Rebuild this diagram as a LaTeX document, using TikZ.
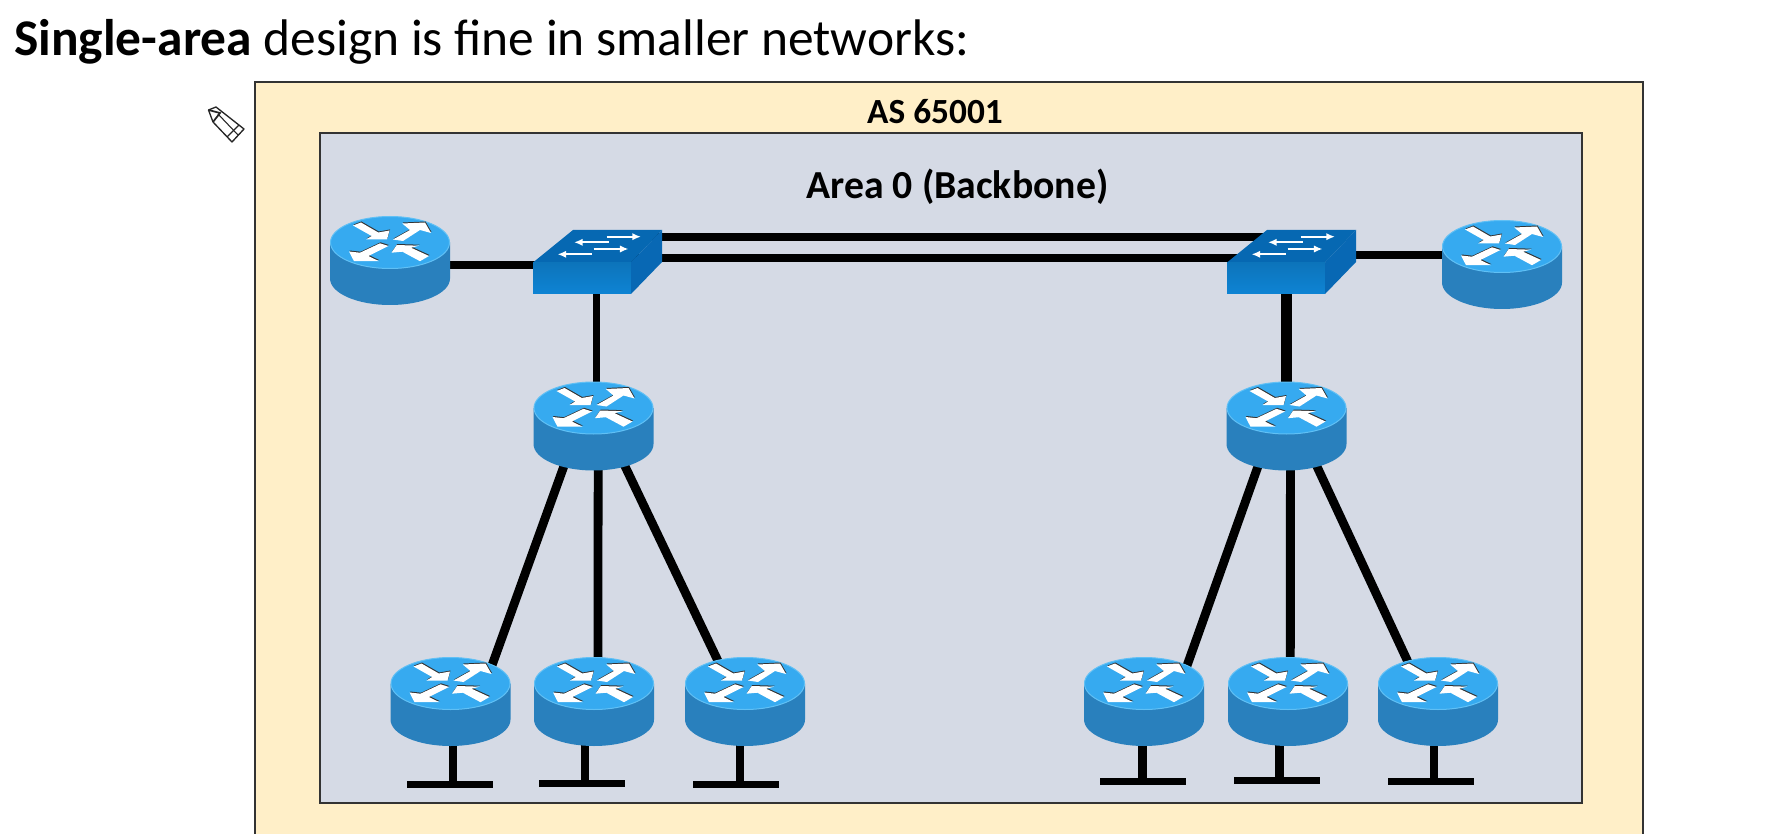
\documentclass[tikz,border=0pt]{standalone}
\usepackage{fontspec}
\setmainfont{Carlito}
\usetikzlibrary{calc,backgrounds,arrows.meta}
\definecolor{asfill}{RGB}{255,239,200}
\definecolor{areafill}{RGB}{213,218,229}
\definecolor{rtrtop}{RGB}{54,170,240}
\definecolor{rtrrim}{RGB}{96,192,245}
\definecolor{rtrbody}{RGB}{41,128,189}
\definecolor{swtop}{RGB}{6,104,178}
\definecolor{swfront}{RGB}{14,132,212}
\definecolor{swside}{RGB}{8,104,180}
\tikzset{
  rtrarrow/.pic={
    \foreach \px in {{(-37,-17)--(-29,-20)--(-11.7,-10)--(-0.5,-12)--(-3,-3)--(-24,-3)--(-18.3,-6.5)},
                     {(3,-3)--(20,-12.5)--(12.3,-19)--(35,-20)--(41,-9.5)--(30,-12.5)--(13,-1.5)},
                     {(-10,0.8)--(-1.5,3.5)--(-21.7,13.5)--(-11,18.7)--(-36,18.7)--(-41,9)--(-30,10.2)},
                     {(39,13.5)--(30,18.7)--(12.3,9.2)--(1.5,10.2)--(6.7,2.5)--(29,3.2)--(21,5.2)}}{
      \fill[black!80,shift={(0.5,-1)}] \px -- cycle;
      \fill[white] \px -- cycle;
    }
  },
  routericon/.style={
    inner sep=0pt,outer sep=0pt,minimum width=90pt,minimum height=66.75pt,
    path picture={
      \begin{scope}[reset cm,shift={(path picture bounding box.center)},x=0.75pt,y=-0.75pt]
        \fill[rtrbody] (-60,-18) -- (-60,18) arc[start angle=180,end angle=360,x radius=60,y radius=-26.5] -- (60,-18) -- cycle;
        \fill[rtrtop,draw=rtrrim,line width=0.75pt] (0,-18) ellipse[x radius=59.5,y radius=26];
        \pic at (0,-18) {rtrarrow};
      \end{scope}
    }
  },
  switchicon/.style={
    inner sep=0pt,outer sep=0pt,minimum width=96.75pt,minimum height=48pt,
    path picture={
      \begin{scope}[reset cm,shift={(path picture bounding box.center)},x=0.75pt,y=-0.75pt]
        \fill[swtop] (-64.5,0.5) -- (-24.5,-32) -- (64.5,-32) -- (33.5,0.5) -- cycle;
        \shade[top color=swfront!88!black,bottom color=swfront] (-64.5,0.5) rectangle (33.5,32);
        \fill[swside] (33.5,0.5) -- (64.5,-32) -- (64.5,0) -- (33.5,32) -- cycle;
        \foreach \xa/\xb/\ya in {9/43.5/-25.3,11/-23.5/-19.7,-4/31/-13,-6/-40/-7.7}
          \draw[white,line width=1.6pt,-{Latex[length=6.5pt,width=5.5pt]}] (\xa,\ya) -- (\xb,\ya);
      \end{scope}
    }
  },
  link/.style={line width=6.25pt},
  spoke/.style={line width=6.6pt,shorten <=-6pt,shorten >=-14pt},
  stem/.style={line width=6.5pt},
  lanbar/.style={fill=black,inner sep=0pt,outer sep=0pt,minimum width=64.5pt,minimum height=5.5pt},
  boxframe/.style={draw=black!80,line width=1.1pt}
}
\begin{document}
\begin{tikzpicture}[x=0.75pt,y=0.75pt,yscale=-1,xscale=1]
  \useasboundingbox (0,0) rectangle (1771,834);

  % routers and switches
  \node[routericon] (rA) at (390,260.5) {};
  \node[switchicon] (swA) at (597.5,262) {};
  \node[routericon] (rB) at (593.5,426) {};
  \node[routericon] (rC) at (450.5,701.5) {};
  \node[routericon] (rD) at (594,701.5) {};
  \node[routericon] (rE) at (745,701.5) {};
  \node[switchicon] (swB) at (1291.5,262) {};
  \node[routericon] (rF) at (1502,264.5) {};
  \node[routericon] (rG) at (1286.5,426) {};
  \node[routericon] (rH) at (1144,701.5) {};
  \node[routericon] (rI) at (1288,701.5) {};
  \node[routericon] (rJ) at (1438,701.5) {};

  % lan bars
  \node[lanbar] (lC) at (449.5,784.5) {};
  \node[lanbar] (lD) at (582,783.5) {};
  \node[lanbar] (lE) at (736,784.5) {};
  \node[lanbar] (lH) at (1143,781.5) {};
  \node[lanbar] (lI) at (1276.5,780.5) {};
  \node[lanbar] (lJ) at (1431,781.5) {};

  % frames and cables
  \begin{scope}[on background layer]
    \draw[boxframe,fill=asfill] (255,834) -- (255,82) -- (1643,82) -- (1643,834);
    \draw[boxframe,fill=areafill] (320,133) rectangle (1582,803);

    \draw[link] ($(rA.east)+(-5,4.5)$) -- ($(swA.west)+(5,3)$);
    \draw[link] ($(swA.center)+(0,-25)$) -- ($(swB.center)+(0,-25)$);
    \draw[link] ($(swA.center)+(0,-4)$) -- ($(swB.center)+(0,-4)$);
    \draw[link] ($(swB.east)+(-5,-7)$) -- ($(rF.west)+(5,-9.5)$);
    \draw[line width=5.25pt] ($(rB.north)+(2.5,8)$) -- ($(swA.south)+(-1.5,-5)$);
    \draw[line width=8.25pt] ($(rG.north)+(0,8)$) -- ($(swB.south)+(-5,-5)$);

    \draw[spoke] (rB.235) -- (rC.45);
    \draw[spoke] (rB.276) -- (rD.85);
    \draw[spoke] (rB.307) -- (rE.123);
    \draw[spoke] (rG.236) -- (rH.44);
    \draw[spoke] (rG.275) -- (rI.87);
    \draw[spoke] (rG.306) -- (rJ.126);

    \foreach \rtr/\lan/\off in {rC/lC/2.5,rD/lD/-9,rE/lE/-5,rH/lH/-1.5,rI/lI/-8.5,rJ/lJ/-4}{
      \coordinate (stub) at ($(\rtr.south)+(\off,-4)$);
      \draw[stem] (stub) -- (stub |- \lan.center);
    }
  \end{scope}

  % texts
  \node[anchor=base west,inner sep=0pt,font=\fontsize{38.6pt}{38.6pt}\selectfont] (title) at (14,55.5) {\textbf{Single-area} design is fine in smaller networks:};
  \node[anchor=base,inner sep=0pt,font=\fontsize{26.5pt}{26.5pt}\selectfont\bfseries] (asname) at (935,124) {AS 65001};
  \node[anchor=base,inner sep=0pt,font=\fontsize{29.8pt}{29.8pt}\selectfont\bfseries] (areaname) at (957.5,199) {Area 0 (Backbone)};

  % pencil
  \draw[black!85,line width=1pt,fill=white,line join=round] (208.5,110) -- (216,107) -- (244,129) -- (232,142) -- (213,122) -- cycle;
  \draw[black!85,line width=1.3pt] (208.5,110) -- (220,113) -- (213,122);
  \draw[black!85,line width=0.8pt] (218,114) -- (238,135);
  \draw[black!85,line width=0.8pt] (239,125) -- (227,137);
\end{tikzpicture}
\end{document}
